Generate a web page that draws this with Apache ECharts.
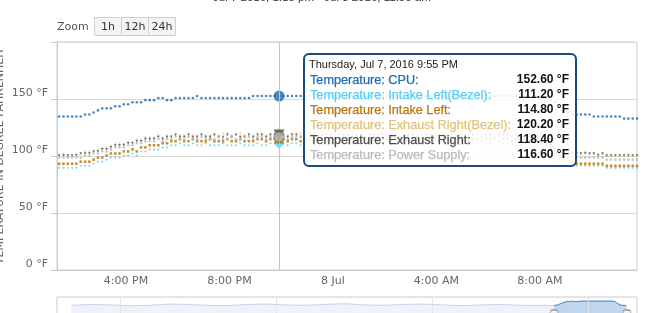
<!DOCTYPE html>
<html><head><meta charset="utf-8">
<script src="https://cdn.jsdelivr.net/npm/echarts@6/dist/echarts.min.js"></script>
<style>html,body{margin:0;padding:0;background:#fff}#c{width:649px;height:313px}</style>
</head><body><div id="c"></div>
<script>
// ---------------- data ----------------
const rangeText = 'Jul 7 2016, 1:15 pm - Jul 8 2016, 11:50 am';
const zoomButtons = ['1h', '12h', '24h'];
const seriesLabels = ['Temperature: CPU:', 'Temperature: Intake Left(Bezel):', 'Temperature: Intake Left:',
  'Temperature: Exhaust Right(Bezel):', 'Temperature: Exhaust Right:', 'Temperature: Power Supply:'];
const yAxisTitle = 'TEMPERATURE IN DEGREE FAHRENHEIT';
const firstSample = [2016, 6, 7, 13, 25];   // Jul 7 2016 1:25 PM (local)
const sampleStepMinutes = 10;
const hoverIndex = 51;                       // 9:55 PM

const cpu = [
134.6,134.6,134.6,134.6,134.6,134.6,136.4,136.4,138.2,140,
141.8,141.8,141.8,143.6,143.6,145.4,145.4,147.2,147.2,147.2,
149,149,149,150.8,150.8,149,149,150.8,150.8,150.8,
150.8,150.8,152.6,150.8,150.8,150.8,150.8,150.8,150.8,150.8,
150.8,150.8,150.8,150.8,150.8,152.6,152.6,152.6,152.6,152.6,
152.6,152.6,152.6,152.6,152.6,152.6,152.6,152.6,152.6,154.4,
152.6,152.6,152.6,152.6,152.6,152.6,150.8,152.6,152.6,152.6,
152.6,152.6,152.6,152.6,154.4,152.6,152.6,152.6,152.6,152.6,
152.6,152.6,152.6,150.8,152.6,152.6,152.6,152.6,152.6,152.6,
152.6,152.6,152.6,152.6,152.6,152.6,152.6,154.4,152.6,152.6,
152.6,152.6,152.6,152.6,152.6,152.6,152.6,152.6,152.6,152.6,
152.6,152.6,150.8,150.8,149,147.2,143.6,140,138.2,136.4,
136.4,136.4,136.4,136.4,134.6,134.6,134.6,134.6,134.6,134.6,
134.6,132.8,132.8,132.8,132.8];

const intakeLeftBezel = [
89.6,89.6,89.6,89.6,89.6,91.4,91.4,91.4,93.2,95,
95,96.8,98.6,98.6,98.6,100.4,100.4,102.2,100.4,104,
104,105.8,105.8,105.8,107.6,107.6,109.4,109.4,111.2,109.4,
109.4,111.2,109.4,109.4,111.2,109.4,109.4,109.4,111.2,109.4,
109.4,109.4,111.2,109.4,109.4,109.4,111.2,109.4,109.4,111.2,
111.2,111.2,111.2,109.4,111.2,111.2,109.4,111.2,111.2,109.4,
111.2,109.4,109.4,111.2,111.2,109.4,109.4,111.2,111.2,109.4,
109.4,111.2,111.2,109.4,109.4,111.2,109.4,109.4,111.2,111.2,
109.4,109.4,111.2,111.2,109.4,111.2,109.4,111.2,109.4,111.2,
111.2,109.4,111.2,109.4,111.2,109.4,111.2,111.2,109.4,111.2,
111.2,109.4,109.4,111.2,111.2,109.4,111.2,109.4,111.2,109.4,
109.4,109.4,107.6,105.8,102.2,98.6,95,93.2,91.4,91.4,
91.4,91.4,91.4,91.4,91.4,91.4,91.4,89.6,89.6,89.6,
89.6,89.6,89.6,89.6,89.6];

const intakeLeft = [
93.2,93.2,93.2,93.2,93.2,95,95,95,96.8,98.6,
98.6,100.4,102.2,102.2,102.2,104,104,105.8,104,107.6,
107.6,109.4,109.4,109.4,111.2,111.2,113,113,114.8,113,
113,114.8,113,113,113,114.8,113,113,113,114.8,
113,113,114.8,113,113,113,114.8,114.8,113,114.8,
114.8,114.8,114.8,113,114.8,114.8,113,114.8,114.8,113,
114.8,114.8,113,114.8,114.8,114.8,113,114.8,114.8,114.8,
113,114.8,114.8,114.8,113,114.8,114.8,113,114.8,114.8,
114.8,113,114.8,114.8,113,114.8,114.8,114.8,113,114.8,
114.8,113,114.8,114.8,114.8,113,114.8,114.8,113,114.8,
114.8,114.8,113,114.8,114.8,113,114.8,114.8,114.8,113,
113,113,111.2,109.4,105.8,102.2,98.6,96.8,95,93.2,
93.2,93.2,93.2,93.2,93.2,93.2,93.2,91.4,91.4,91.4,
91.4,91.4,91.4,91.4,91.4];

const exhaustRightBezel = [
100.4,102.2,100.4,100.4,102.2,102.2,104,104,104,105.8,
107.6,107.6,109.4,111.2,111.2,111.2,113,113,114.8,114.8,
116.6,116.6,116.6,118.4,116.6,118.4,118.4,120.2,118.4,118.4,
120.2,118.4,118.4,120.2,118.4,118.4,120.2,118.4,120.2,120.2,
118.4,120.2,120.2,118.4,120.2,118.4,120.2,120.2,118.4,120.2,
120.2,120.2,120.2,118.4,120.2,120.2,120.2,118.4,120.2,120.2,
120.2,118.4,120.2,120.2,120.2,120.2,118.4,120.2,120.2,118.4,
120.2,120.2,118.4,120.2,120.2,120.2,118.4,120.2,120.2,120.2,
118.4,120.2,120.2,120.2,118.4,120.2,120.2,120.2,120.2,118.4,
120.2,120.2,118.4,120.2,120.2,120.2,118.4,120.2,120.2,120.2,
118.4,120.2,120.2,120.2,120.2,118.4,120.2,120.2,118.4,120.2,
118.4,118.4,116.6,114.8,111.2,107.6,104,102.2,102.2,104,
102.2,102.2,104,102.2,102.2,102.2,102.2,100.4,100.4,100.4,
100.4,100.4,100.4,100.4,100.4];

const exhaustRight = [
100.4,100.4,100.4,100.4,100.4,102.2,102.2,102.2,104,104,
105.8,105.8,107.6,109.4,109.4,109.4,111.2,111.2,113,113,
114.8,114.8,114.8,116.6,114.8,116.6,116.6,118.4,116.6,116.6,
118.4,116.6,116.6,118.4,116.6,116.6,118.4,116.6,116.6,118.4,
116.6,118.4,116.6,116.6,118.4,116.6,118.4,118.4,116.6,118.4,
118.4,118.4,118.4,116.6,118.4,118.4,116.6,118.4,118.4,118.4,
116.6,118.4,118.4,118.4,116.6,118.4,118.4,118.4,116.6,118.4,
118.4,116.6,118.4,118.4,118.4,118.4,116.6,118.4,118.4,116.6,
118.4,118.4,118.4,116.6,118.4,118.4,118.4,116.6,118.4,118.4,
116.6,118.4,118.4,118.4,116.6,118.4,118.4,118.4,116.6,118.4,
118.4,116.6,118.4,118.4,118.4,116.6,118.4,118.4,116.6,118.4,
116.6,116.6,114.8,113,109.4,105.8,102.2,102.2,102.2,102.2,
102.2,102.2,102.2,102.2,102.2,100.4,102.2,100.4,100.4,100.4,
100.4,100.4,100.4,100.4,100.4];

const powerSupply = [
98.6,98.6,98.6,98.6,98.6,98.6,100.4,100.4,102.2,102.2,
104,104,105.8,107.6,107.6,107.6,109.4,109.4,111.2,111.2,
113,113,113,114.8,113,114.8,114.8,116.6,114.8,114.8,
116.6,114.8,114.8,116.6,114.8,114.8,114.8,116.6,114.8,114.8,
116.6,114.8,114.8,116.6,116.6,114.8,116.6,116.6,114.8,116.6,
116.6,116.6,116.6,114.8,116.6,116.6,116.6,114.8,116.6,116.6,
116.6,114.8,116.6,116.6,116.6,116.6,114.8,116.6,116.6,116.6,
114.8,116.6,116.6,116.6,116.6,114.8,116.6,116.6,116.6,114.8,
116.6,116.6,116.6,114.8,116.6,116.6,116.6,116.6,114.8,116.6,
116.6,116.6,114.8,116.6,116.6,116.6,116.6,114.8,116.6,116.6,
116.6,114.8,116.6,116.6,116.6,116.6,114.8,116.6,116.6,116.6,
114.8,114.8,113,111.2,107.6,104,100.4,98.6,98.6,98.6,
98.6,98.6,98.6,98.6,98.6,98.6,98.6,96.8,96.8,96.8,
96.8,96.8,96.8,96.8,96.8];

// navigator: earlier CPU history, every 6 hours from Jul 1 9:00 AM
const navHistoryStart = [2016, 6, 1, 9, 0];
const navHistoryStepHours = 6;
const navHistory = [134.6,138.2,136.4,132.8,134.6,140,138.2,134.6,132.8,138.2,140,136.4,134.6,
  138.2,141.8,136.4,134.6,138.2,140,136.4,132.8,136.4,138.2,134.6,134.6];
const navGridDays = [[2016, 6, 2], [2016, 6, 4], [2016, 6, 6], [2016, 6, 8]];

const xTickTimes = [[2016, 6, 7, 16], [2016, 6, 7, 20], [2016, 6, 8, 0], [2016, 6, 8, 4], [2016, 6, 8, 8]];
const xTickLabels = ['4:00 PM', '8:00 PM', '8 Jul', '4:00 AM', '8:00 AM'];
const yTicks = [0, 50, 100, 150, 200];

// ---------------- build ----------------
const T = a => new Date(a[0], a[1], a[2], a[3] || 0, a[4] || 0).getTime();
const t0 = T(firstSample);
const sampleTimes = cpu.map((_, i) => t0 + i * sampleStepMinutes * 60000);
const viewMin = T([2016, 6, 7, 13, 20]), viewMax = T([2016, 6, 8, 11, 45]);
const navMin = T([2016, 6, 1, 4, 40]), navMax = T([2016, 6, 8, 14, 50]);
const navYMax = 170;
const xTicks = xTickTimes.map(T);
const h0 = T(navHistoryStart);
const navBase = navHistory.map((v, i) => [h0 + i * navHistoryStepHours * 3600000, v])
  .concat(cpu.map((v, i) => [sampleTimes[i], v]));

const allSeries = [cpu, intakeLeftBezel, intakeLeft, exhaustRightBezel, exhaustRight, powerSupply];
const colors = ['#1d6cae', '#55cff3', '#b5770f', '#e3c27a', '#4d4d4d', '#bababa'];
const symbols = ['circle', 'diamond', 'rect', 'triangle', 'triangle', 'circle'];
const rotations = [0, 0, 0, 0, 180, 0];
const hoverSizes = [11, 11, 9, 11, 11, 10];

const FONT_AX = 'DejaVu Sans';
const FONT_TT = '"Liberation Sans", Arial, sans-serif';

function buildData(vals, k) {
  return vals.map((v, i) => {
    const it = { value: [sampleTimes[i], v] };
    if (i === hoverIndex) {
      it.symbolSize = hoverSizes[k];
      it.itemStyle = { color: colors[k], borderColor: k === 5 ? '#777' : colors[k], borderWidth: k === 5 ? 1 : 0 };
    }
    return it;
  });
}

const series = [{
  type: 'line', xAxisIndex: 0, yAxisIndex: 0, z: 1, silent: true, symbol: 'none',
  data: [[sampleTimes[hoverIndex], cpu[hoverIndex]]], lineStyle: { width: 0 },
  markLine: { silent: true, symbol: ['none', 'none'], label: { show: false },
    lineStyle: { color: '#c4c4c4', width: 1, type: 'solid' },
    data: [{ xAxis: sampleTimes[hoverIndex] }] }
}];
allSeries.forEach((vals, k) => series.push({
  type: 'scatter', xAxisIndex: 0, yAxisIndex: 0, z: 2 + k, silent: true,
  symbol: symbols[k], symbolRotate: rotations[k], symbolSize: 2.6,
  itemStyle: { color: colors[k] }, emphasis: { disabled: true },
  data: buildData(vals, k)
}));
series.push({
  type: 'line', xAxisIndex: 1, yAxisIndex: 1, silent: true, showSymbol: false, z: 2,
  data: navBase, lineStyle: { color: '#c3d5ec', width: 1 },
  areaStyle: { color: 'rgba(51,92,173,0.11)' },
  markLine: { silent: true, symbol: ['none', 'none'], label: { show: false },
    lineStyle: { color: '#e3e3e3', width: 1, type: 'solid' },
    data: navGridDays.map(d => ({ xAxis: T(d) })) }
});
series.push({
  type: 'line', xAxisIndex: 1, yAxisIndex: 1, silent: true, showSymbol: false, z: 3,
  data: cpu.map((v, i) => [sampleTimes[i], v]), lineStyle: { color: '#4f8ace', width: 1 },
  areaStyle: { color: 'rgba(90,150,215,0.45)' },
  markPoint: { silent: true, symbol: 'roundRect', symbolSize: [8, 14], label: { show: false },
    itemStyle: { color: '#f2f2f2', borderColor: '#999', borderWidth: 1 },
    data: [{ coord: [viewMin, navYMax / 2] }, { coord: [viewMax, navYMax / 2] }] }
});

// tooltip (drawn as graphic, values read from the arrays)
const dayNames = ['Sunday', 'Monday', 'Tuesday', 'Wednesday', 'Thursday', 'Friday', 'Saturday'];
const monNames = ['Jan', 'Feb', 'Mar', 'Apr', 'May', 'Jun', 'Jul', 'Aug', 'Sep', 'Oct', 'Nov', 'Dec'];
const hd = new Date(sampleTimes[hoverIndex]);
const hh = hd.getHours();
const header = dayNames[hd.getDay()] + ', ' + monNames[hd.getMonth()] + ' ' + hd.getDate() + ', ' + hd.getFullYear() + ' ' +
  (hh % 12 || 12) + ':' + String(hd.getMinutes()).padStart(2, '0') + ' ' + (hh < 12 ? 'AM' : 'PM');

const graphics = [
  { type: 'text', x: 213, y: 4, z: 100, style: { text: rangeText, font: '11.5px ' + FONT_TT, fill: '#333', align: 'left', verticalAlign: 'bottom', textAlign: 'left', textVerticalAlign: 'bottom' } },
  { type: 'text', x: 57, y: 27, z: 100, style: { text: 'Zoom', font: '11px ' + FONT_AX, fill: '#555', align: 'left', verticalAlign: 'middle', textAlign: 'left', textVerticalAlign: 'middle' } }
];
const btnX = [94.5, 121.5, 148.5];
zoomButtons.forEach((b, i) => {
  graphics.push({ type: 'rect', z: 100, shape: { x: btnX[i], y: 17.5, width: 27, height: 18 }, style: { fill: '#f4f4f4', stroke: '#cfcfcf', lineWidth: 1 } });
  graphics.push({ type: 'text', z: 101, x: btnX[i] + 13.5, y: 27, style: { text: b, font: '11px ' + FONT_AX, fill: '#333', align: 'center', verticalAlign: 'middle', textAlign: 'center', textVerticalAlign: 'middle' } });
});
graphics.push({ type: 'rect', z: 100, shape: { x: 304, y: 54, width: 272, height: 112, r: 5 }, style: { fill: 'rgba(255,255,255,0.86)', stroke: '#1a4b80', lineWidth: 2 } });
graphics.push({ type: 'text', z: 101, x: 309, y: 65, style: { text: header, font: '11px ' + FONT_TT, fill: '#222', align: 'left', verticalAlign: 'middle', textAlign: 'left', textVerticalAlign: 'middle' } });
allSeries.forEach((vals, k) => {
  const y = 80 + k * 15;
  graphics.push({ type: 'text', z: 101, x: 310, y: y, style: { text: seriesLabels[k], font: '12.7px ' + FONT_TT, fill: colors[k], stroke: colors[k], lineWidth: 0.25, align: 'left', verticalAlign: 'middle', textAlign: 'left', textVerticalAlign: 'middle' } });
  graphics.push({ type: 'text', z: 101, x: 569, y: y, style: { text: vals[hoverIndex].toFixed(2) + ' °F', font: 'bold 12px ' + FONT_TT, fill: '#111', align: 'right', verticalAlign: 'middle', textAlign: 'right', textVerticalAlign: 'middle' } });
});

const chart = echarts.init(document.getElementById('c'), null, { renderer: 'canvas' });
chart.setOption({
  animation: false,
  backgroundColor: '#fff',
  grid: [
    { left: 57, top: 42, width: 580, height: 228, show: true, borderColor: '#cccccc', borderWidth: 1, outerBoundsMode: 'none', containLabel: false },
    { left: 57, top: 297, width: 580, height: 40, show: true, borderColor: '#cccccc', borderWidth: 1, outerBoundsMode: 'none', containLabel: false }
  ],
  xAxis: [
    { type: 'value', gridIndex: 0, min: viewMin, max: viewMax,
      axisLine: { show: true, lineStyle: { color: '#cccccc' } }, axisTick: { show: false }, splitLine: { show: false },
      axisLabel: { customValues: xTicks, color: '#666', fontFamily: FONT_AX, fontSize: 11, margin: 6, hideOverlap: false,
        formatter: v => { const k = xTicks.indexOf(+v); return k >= 0 ? xTickLabels[k] : ''; } } },
    { type: 'value', gridIndex: 1, min: navMin, max: navMax, show: false }
  ],
  yAxis: [
    { type: 'value', gridIndex: 0, min: yTicks[0], max: yTicks[yTicks.length - 1], interval: yTicks[1] - yTicks[0],
      name: yAxisTitle, nameLocation: 'middle', nameGap: 51, nameMoveOverlap: false,
      nameTextStyle: { color: '#666', fontFamily: FONT_AX, fontSize: 11 },
      axisLine: { show: true, lineStyle: { color: '#cccccc' } },
      axisTick: { show: true, length: 6, lineStyle: { color: '#cccccc' } },
      splitLine: { show: true, lineStyle: { color: '#d9d9d9' } },
      axisLabel: { color: '#666', fontFamily: FONT_AX, fontSize: 11, margin: 9, verticalAlign: 'bottom',
        formatter: v => v === yTicks[yTicks.length - 1] ? '' : v + ' °F' } },
    { type: 'value', gridIndex: 1, min: 0, max: navYMax, show: false }
  ],
  series: series,
  graphic: { elements: graphics }
});
</script></body></html>
